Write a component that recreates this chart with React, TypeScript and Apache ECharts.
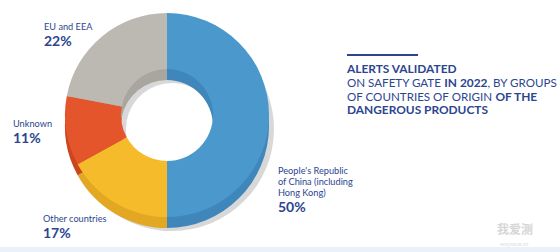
import React, { useEffect, useRef } from "react";
import * as echarts from "echarts";

const categories = ["People's Republic\nof China (including\nHong Kong)", "Other countries", "Unknown", "EU and EEA"];
const shares = [50, 17, 11, 22];
const faceColors = ["#4b98cc", "#f6bb2b", "#e4552b", "#bcb8b2"];
const sideColors = ["#3f86bb", "#e2a823", "#c9461f", "#a9a59f"];
const titleLines = [
  [{ t: "ALERTS VALIDATED", b: true }],
  [{ t: "ON SAFETY GATE ", b: false }, { t: "IN 2022", b: true }, { t: ", BY GROUPS", b: false }],
  [{ t: "OF COUNTRIES OF ORIGIN ", b: false }, { t: "OF THE", b: true }],
  [{ t: "DANGEROUS PRODUCTS", b: true }],
];
// label anchor positions (top-left) per slice
const labelPos = [
  [278, 165],
  [43, 213],
  [13, 118],
  [44, 21],
];

const TEXT = "#2b4590";
const FONT = "Lato, 'Open Sans', sans-serif";

export default function App() {
  const ref = useRef<HTMLDivElement>(null);
  useEffect(() => {
    const chart = echarts.init(ref.current!, null, { renderer: "svg" });
    const data = categories.map((n, i) => ({ name: n, value: shares[i] }));
    const cx = 167, cy = 115;
    const titleText = titleLines
      .map((line) => line.map((s) => `{${s.b ? "b" : "n"}|${s.t}}`).join(""))
      .join("\n");
    chart.setOption({
      animation: false,
      textStyle: { fontFamily: FONT },
      series: [
        {
          type: "pie",
          silent: true,
          z: 1,
          center: [cx + 5, cy + 14],
          radius: [46, 102],
          startAngle: 90,
          clockwise: true,
          label: { show: false },
          itemStyle: { color: "#d8d8d8" },
          data: data.map((d) => ({ ...d })),
        },
        {
          type: "pie",
          silent: true,
          z: 2,
          center: [cx, cy + 11],
          radius: [46, 102],
          startAngle: 90,
          clockwise: true,
          label: { show: false },
          data: data.map((d, i) => ({ ...d, itemStyle: { color: sideColors[i] } })),
        },
        {
          type: "pie",
          silent: true,
          z: 3,
          center: [cx, cy],
          radius: [46, 102],
          startAngle: 90,
          clockwise: true,
          avoidLabelOverlap: false,
          label: {
            show: true,
            position: "outside",
            overflow: "none",
            formatter: (p: any) =>
              p.name.split("\n").map((s: string) => `{n|${s}}`).join("\n") + `\n{p|${p.value}%}`,
            rich: {
              n: { fontSize: 9.2, lineHeight: 11, color: TEXT, fontFamily: FONT },
              p: { fontSize: 14, lineHeight: 17, fontWeight: "bold", color: TEXT, fontFamily: FONT },
            },
          },
          labelLine: { show: false },
          labelLayout: (params: any) => {
            const [x, y] = labelPos[params.dataIndex];
            return { x, y, align: "left", verticalAlign: "top", hideOverlap: false, moveOverlap: false };
          },
          data: data.map((d, i) => ({ ...d, itemStyle: { color: faceColors[i] } })),
        },
      ],
      graphic: [
        { type: "rect", shape: { x: 0, y: 247, width: 560, height: 5 }, style: { fill: "#eaf1fa" } },
        { type: "rect", shape: { x: 347, y: 54, width: 71, height: 2 }, style: { fill: TEXT } },
        {
          type: "text",
          x: 347,
          y: 61.5,
          style: {
            text: titleText,
            fill: TEXT,
            font: `11.6px ${FONT}`,
            rich: {
              b: { fontSize: 11.9, fontWeight: "bold", lineHeight: 13.8, fill: TEXT, fontFamily: FONT },
              n: { fontSize: 11.6, lineHeight: 13.8, fill: TEXT, fontFamily: FONT },
            },
          },
        },
        {
          type: "text",
          x: 497,
          y: 222,
          style: { text: "我爱测", fill: "#d6d6d6", font: `bold 12px 'Noto Sans CJK SC', sans-serif` },
        },
        {
          type: "text",
          x: 500,
          y: 241,
          style: { text: "woyaoce.cn", fill: "#dddddd", font: `5.5px ${FONT}` },
        },
      ],
    });
    return () => chart.dispose();
  }, []);
  return (
    <div
      ref={ref}
      style={{ position: "absolute", left: 0, top: 0, width: 560, height: 252, background: "#fff" }}
    />
  );
}
